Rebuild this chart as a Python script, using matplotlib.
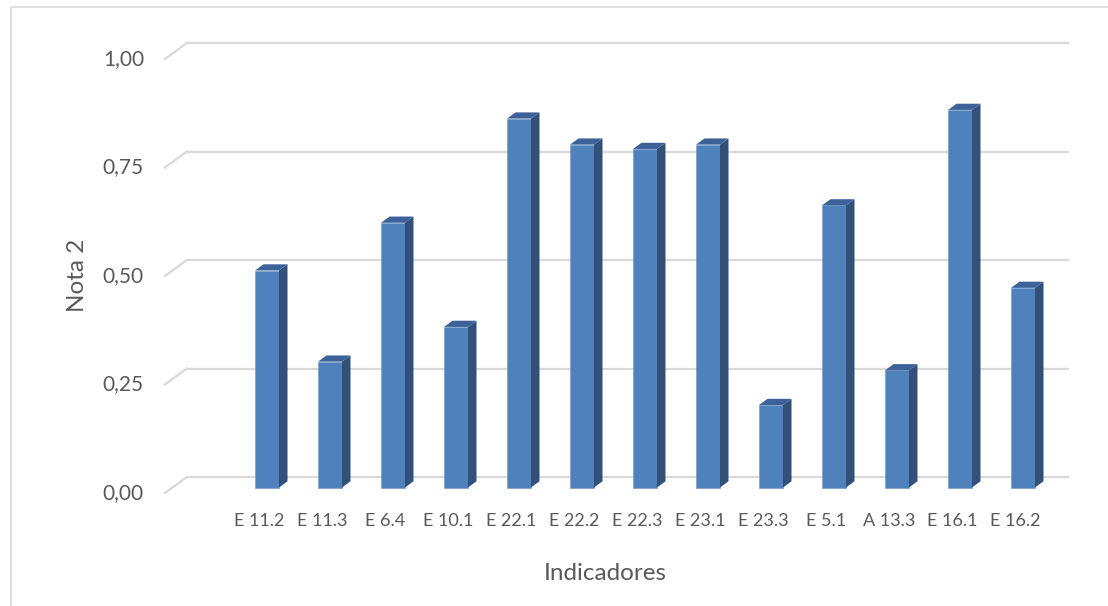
import matplotlib
matplotlib.use("Agg")
import matplotlib.pyplot as plt
from matplotlib.patches import Polygon
from matplotlib.lines import Line2D

# ----------------------------------------------------
# DATA
# ----------------------------------------------------
indicadores = ["E 11.2", "E 11.3", "E 6.4", "E 10.1", "E 22.1", "E 22.2", "E 22.3",
               "E 23.1", "E 23.3", "E 5.1", "A 13.3", "E 16.1", "E 16.2"]
nota2 = [0.50, 0.29, 0.61, 0.37, 0.85, 0.79, 0.78, 0.79, 0.19, 0.65, 0.27, 0.87, 0.46]
y_ticks = [0.0, 0.25, 0.50, 0.75, 1.00]
y_tick_labels = ["0,00", "0,25", "0,50", "0,75", "1,00"]

# ----------------------------------------------------
# STYLE
# ----------------------------------------------------
FONT = ["Lato", "DejaVu Sans"]
TEXT_COLOR = "#595959"
GRID_COLOR = "#d9d9d9"
FACE = "#4f81bd"
SIDE = "#325078"
TOP = "#3c6299"
W, H = 1108, 606

# 3D depth offsets in pixels (relative to the bar front plane)
BACK_DX, BACK_DY = 14.4, 10.5     # back wall of the floor
FRONT_DX, FRONT_DY = -7.6, -5.5   # front edge of the floor
BAR_DX, BAR_DY = 8.5, 6.2         # depth of each column

plt.rcParams["font.family"] = FONT

fig = plt.figure(figsize=(W / 100, H / 100), dpi=100)
fig.patch.set_facecolor("white")

# axes: category index on x, value on y (front plane of the columns)
x_lo, x_hi = -1.5, len(indicadores) - 0.5
left_px, right_px = 172.5, 1054.5
top_px, bottom_px = 53.5, 487.5
ax = fig.add_axes([left_px / W, 1 - bottom_px / H,
                   (right_px - left_px) / W, (bottom_px - top_px) / H])
ax.set_xlim(x_lo, x_hi)
ax.set_ylim(0, 1)
ax.axis("off")

px_x = (x_hi - x_lo) / (right_px - left_px)   # data units per pixel
px_y = 1.0 / (bottom_px - top_px)

# ----------------------------------------------------
# GRIDLINES (back wall + floor diagonal)
# ----------------------------------------------------
for v, lab in zip(y_ticks, y_tick_labels):
    ax.plot([x_lo + BACK_DX * px_x, x_hi + BACK_DX * px_x],
            [v + BACK_DY * px_y] * 2, color=GRID_COLOR, lw=1.6,
            zorder=1, clip_on=False, solid_capstyle="butt")
    ax.plot([x_lo + FRONT_DX * px_x, x_lo + BACK_DX * px_x],
            [v + FRONT_DY * px_y, v + BACK_DY * px_y], color=GRID_COLOR,
            lw=1.6, zorder=1, clip_on=False)
    ax.annotate(lab, xy=(x_lo + FRONT_DX * px_x, v + FRONT_DY * px_y),
                xytext=(-21 * 0.72, 0), textcoords="offset points",
                ha="right", va="center", fontsize=15, color=TEXT_COLOR,
                annotation_clip=False)

# ----------------------------------------------------
# COLUMNS
# ----------------------------------------------------
bw = 0.381
xs = list(range(len(indicadores)))
ax.bar(xs, nota2, width=bw, color=FACE, edgecolor="#6f97c9",
       linewidth=0.4, zorder=3, clip_on=False)
ddx, ddy = BAR_DX * px_x, BAR_DY * px_y
for x, v in zip(xs, nota2):
    xr = x + bw / 2
    xl = x - bw / 2
    ax.add_patch(Polygon([(xr, 0), (xr + ddx, ddy), (xr + ddx, v + ddy), (xr, v)],
                         closed=True, facecolor=SIDE, edgecolor="none",
                         zorder=3, clip_on=False))
    ax.add_patch(Polygon([(xl, v), (xl + ddx, v + ddy), (xr + ddx, v + ddy), (xr, v)],
                         closed=True, facecolor=TOP, edgecolor="none",
                         zorder=3, clip_on=False))

# category labels, centred on the front edge of the floor
for x, lab in zip(xs, indicadores):
    ax.annotate(lab, xy=(x + FRONT_DX * px_x, 0),
                xytext=(0, -33 * 0.72), textcoords="offset points",
                ha="center", va="center", fontsize=13, color=TEXT_COLOR,
                annotation_clip=False)

# ----------------------------------------------------
# AXIS TITLES
# ----------------------------------------------------
fig.text(78 / W, 1 - 275 / H, "Nota 2", rotation=90, ha="center", va="center",
         fontsize=17.5, color=TEXT_COLOR)
fig.text(605 / W, 1 - 573 / H, "Indicadores", ha="center", va="center",
         fontsize=17.5, color=TEXT_COLOR)

# chart area border (top and left edges visible)
fig.add_artist(Line2D([11 / W, 11 / W, 1.0], [0.0, 1 - 7 / H, 1 - 7 / H],
                      transform=fig.transFigure, color=GRID_COLOR, lw=1.2))

plt.savefig("out.png", dpi=100, facecolor="white")
plt.close()
